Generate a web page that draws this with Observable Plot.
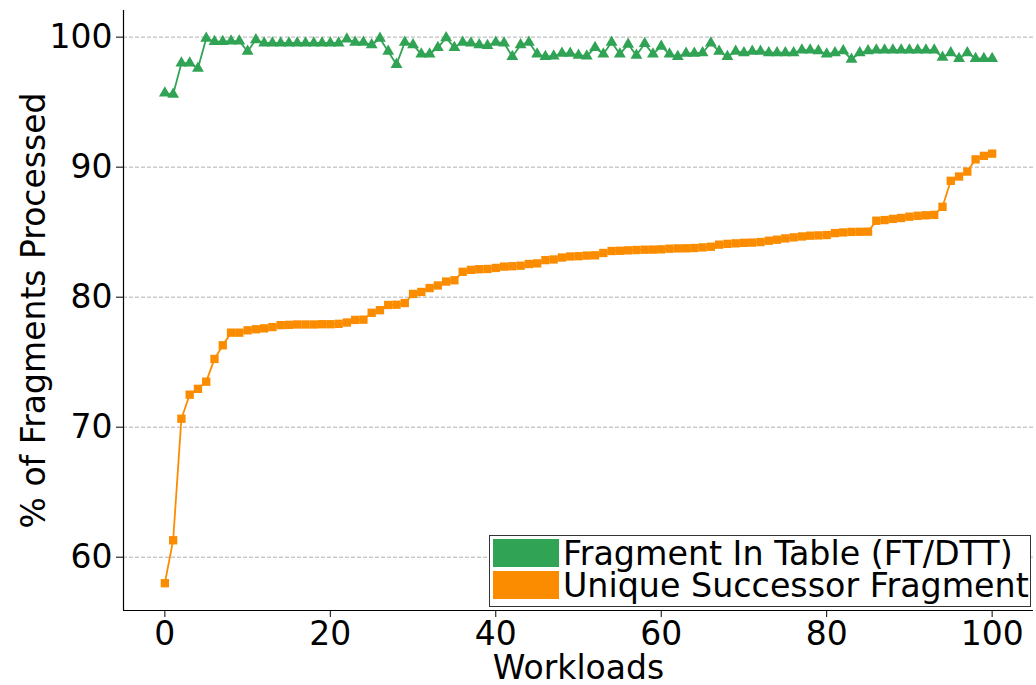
<!DOCTYPE html>
<html>
<head>
<meta charset="utf-8">
<script src="https://cdn.jsdelivr.net/npm/d3@7"></script>
<script src="https://cdn.jsdelivr.net/npm/@observablehq/plot@0.6"></script>
<style>
  html, body { margin: 0; padding: 0; background: white; }
  #chart svg { display: block; }
</style>
</head>
<body>
<div id="chart"></div>
<script>
const workloads = d3.range(0, 101);
const fragmentInTable = [
  95.7, 95.6, 98.0, 98.0, 97.6, 99.9, 99.65, 99.65, 99.7, 99.7,
  98.9, 99.8, 99.55, 99.55, 99.55, 99.55, 99.55, 99.55, 99.55, 99.55,
  99.55, 99.55, 99.85, 99.6, 99.6, 99.4, 99.9, 98.9, 97.9, 99.6,
  99.4, 98.7, 98.7, 99.2, 99.95, 99.2, 99.6, 99.55, 99.4, 99.35,
  99.6, 99.55, 98.5, 99.4, 99.6, 98.7, 98.5, 98.55, 98.75, 98.75,
  98.6, 98.55, 99.2, 98.7, 99.6, 98.7, 99.45, 98.6, 99.5, 98.7,
  99.3, 98.7, 98.5, 98.75, 98.75, 98.8, 99.55, 98.9, 98.5, 98.9,
  98.8, 98.9, 98.9, 98.8, 98.8, 98.8, 98.8, 99.0, 99.0, 98.95,
  98.7, 98.8, 98.95, 98.3, 98.8, 98.95, 99.0, 99.0, 99.0, 99.0,
  99.0, 99.0, 99.0, 99.0, 98.45, 98.8, 98.35, 98.8, 98.35, 98.35,
  98.35
];
const uniqueSuccessor = [
  58.0, 61.3, 70.65, 72.5, 72.95, 73.5, 75.25, 76.3, 77.27, 77.27,
  77.45, 77.53, 77.6, 77.7, 77.85, 77.87, 77.9, 77.9, 77.9, 77.92,
  77.92, 77.95, 78.05, 78.25, 78.27, 78.8, 79.0, 79.4, 79.42, 79.55,
  80.25, 80.4, 80.7, 80.9, 81.2, 81.3, 81.95, 82.1, 82.15, 82.17,
  82.25, 82.35, 82.38, 82.42, 82.55, 82.6, 82.85, 82.9, 83.05, 83.13,
  83.15, 83.2, 83.22, 83.4, 83.55, 83.57, 83.6, 83.63, 83.65, 83.66,
  83.68, 83.73, 83.75, 83.76, 83.78, 83.83, 83.88, 84.04, 84.1, 84.14,
  84.18, 84.2, 84.24, 84.34, 84.42, 84.52, 84.6, 84.67, 84.73, 84.75,
  84.78, 84.93, 84.98, 85.02, 85.03, 85.04, 85.88, 85.93, 86.02, 86.09,
  86.19, 86.26, 86.3, 86.33, 86.95, 88.95, 89.28, 89.66, 90.6, 90.87,
  91.04
];
const seriesNames = ["Fragment In Table (FT/DTT)", "Unique Successor Fragment"];
const seriesColors = ["#31a354", "#fb8c00"];
const xTicks = [0, 20, 40, 60, 80, 100];
const yTicks = [60, 70, 80, 90, 100];

const ftData = workloads.map((w, i) => ({w, v: fragmentInTable[i]}));
const usData = workloads.map((w, i) => ({w, v: uniqueSuccessor[i]}));

const xDomain = [-5, 105];
const yDomain = [55.9, 102.05];

const chart = Plot.plot({
  width: 1036,
  height: 685,
  marginLeft: 123,
  marginRight: 3,
  marginTop: 10,
  marginBottom: 75,
  style: {fontFamily: "DejaVu Sans", fontSize: "33px", color: "black", background: "white"},
  x: {domain: xDomain},
  y: {domain: yDomain},
  marks: [
    Plot.gridY(yTicks, {stroke: "#b0b0b0", strokeOpacity: 1, strokeWidth: 1, strokeDasharray: "4,2"}),
    Plot.axisY(yTicks, {tickSize: 7, tickPadding: 4, fontSize: 33, label: "% of Fragments Processed",
      labelAnchor: "center", labelArrow: "none", labelOffset: 102}),
    Plot.axisX(xTicks, {tickSize: 7, tickPadding: 4, fontSize: 33, label: "Workloads",
      labelAnchor: "center", labelArrow: "none", labelOffset: 68}),
    Plot.ruleX([xDomain[0]], {stroke: "black", strokeWidth: 1.2}),
    Plot.ruleY([yDomain[0]], {stroke: "black", strokeWidth: 1.2}),
    Plot.line(ftData, {x: "w", y: "v", stroke: seriesColors[0], strokeWidth: 1.8}),
    Plot.dot(ftData, {x: "w", y: "v", symbol: "triangle", r: 4.4, fill: seriesColors[0], stroke: "none"}),
    Plot.line(usData, {x: "w", y: "v", stroke: seriesColors[1], strokeWidth: 1.8}),
    Plot.dot(usData, {x: "w", y: "v", symbol: "square", r: 4.7, fill: seriesColors[1], stroke: "none"})
  ]
});

document.getElementById("chart").appendChild(chart);

// Legend (inside plot, bottom right)
const svg = d3.select(chart);
const lg = svg.append("g").attr("font-family", "DejaVu Sans").attr("font-size", 33.3).attr("text-anchor", "start");
lg.append("rect").attr("x", 489.5).attr("y", 535.5).attr("width", 541).attr("height", 71)
  .attr("fill", "white").attr("stroke", "#333").attr("stroke-width", 1);
seriesNames.forEach((name, i) => {
  lg.append("rect").attr("x", 493).attr("y", 539 + i * 32).attr("width", 66).attr("height", 28)
    .attr("fill", seriesColors[i]);
  lg.append("text").attr("x", 563).attr("y", 565 + i * 32).attr("fill", "black")
    .attr("text-anchor", "start").text(name);
});
</script>
</body>
</html>
